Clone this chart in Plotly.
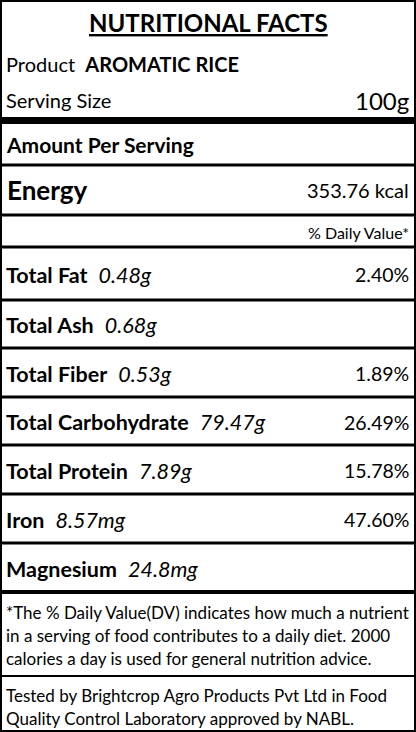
import plotly.graph_objects as go

title = "NUTRITIONAL FACTS"
product = "AROMATIC RICE"
serving = "100g"
energy = "353.76 kcal"
nutrients = ["Total Fat", "Total Ash", "Total Fiber", "Total Carbohydrate", "Total Protein", "Iron", "Magnesium"]
amounts = ["0.48g", "0.68g", "0.53g", "79.47g", "7.89g", "8.57mg", "24.8mg"]
daily = ["2.40%", "", "1.89%", "26.49%", "15.78%", "47.60%", ""]
footnote = ["*The % Daily Value(DV) indicates how much a nutrient",
            "in a serving of food contributes to a daily diet. 2000",
            "calories a day is used for general nutrition advice."]
tested = ["Tested by Brightcrop Agro Products Pvt Ltd in Food",
          "Quality Control Laboratory approved by NABL."]

F = "Lato"
fig = go.Figure()
ann = []
shapes = []

def txt(x, y, t, size, anchor="left"):
    ann.append(dict(x=x, y=y, xref="x", yref="y", text=t, showarrow=False,
                    xanchor=anchor, yanchor="middle",
                    font=dict(family=F, size=size, color="black")))

def hline(y, w):
    shapes.append(dict(type="line", x0=0, x1=416, y0=y, y1=y, xref="x", yref="y",
                       line=dict(color="black", width=w)))

shapes.append(dict(type="rect", x0=1, x1=415, y0=1, y1=731, xref="x", yref="y",
                   line=dict(color="black", width=2)))
txt(208, 22, "<b><u>" + title + "</u></b>", 24, "center")
txt(4, 64, "Product  <b>" + product + "</b>", 20)
txt(4, 100, "Serving Size", 20)
txt(411, 100, serving, 24, "right")
hline(120.5, 7)
txt(4, 144, "<b>Amount Per Serving</b>", 21)
hline(165, 3)
txt(5, 190, "<b>Energy</b>", 26)
txt(411, 190, energy, 20, "right")
hline(215, 3)
txt(411, 232, "% Daily Value*", 16, "right")
hline(247, 3)
lines = [300, 348, 397, 445, 494, 543, 592]
top = 247
for i, (n, a, d) in enumerate(zip(nutrients, amounts, daily)):
    bot = lines[i]
    yc = (top + bot) / 2 + 1
    txt(4, yc, "<b>" + n + "</b>  <i>" + a + "</i>", 21.5)
    if d:
        txt(411, yc, d, 19.5, "right")
    hline(bot, 4 if i == 6 else 3)
    top = bot
for j, l in enumerate(footnote):
    txt(4, 612 + j * 23, l, 17)
hline(676, 2)
for j, l in enumerate(tested):
    txt(4, 695 + j * 23, l, 17)

fig.update_layout(width=416, height=732, margin=dict(l=0, r=0, t=0, b=0),
                  paper_bgcolor="white", plot_bgcolor="white",
                  xaxis=dict(range=[0, 416], visible=False, fixedrange=True),
                  yaxis=dict(range=[732, 0], visible=False, fixedrange=True),
                  annotations=ann, shapes=shapes, showlegend=False)
fig.write_html("out.html", config={"displayModeBar": False},
               post_script="document.body.style.margin='0';document.body.style.overflow='hidden';")
